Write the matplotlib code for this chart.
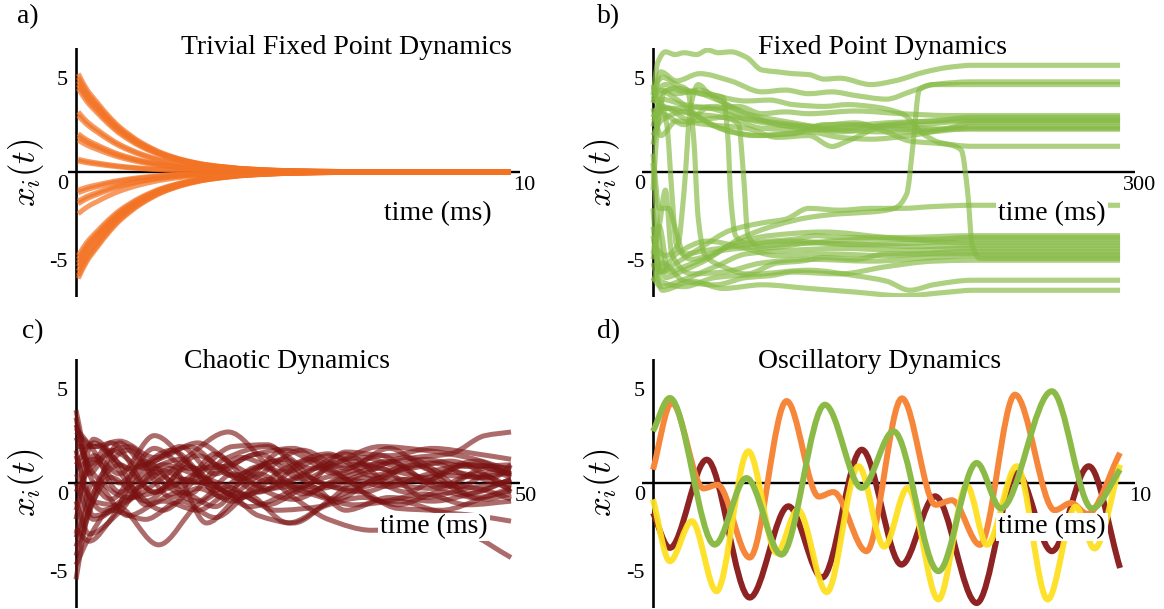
import numpy as np
import matplotlib
matplotlib.use("Agg")
import matplotlib.pyplot as plt
from matplotlib.path import Path
from matplotlib.patches import PathPatch

plt.rcParams["font.family"] = ["Liberation Serif", "DejaVu Serif"]
plt.rcParams["mathtext.fontset"] = "cm"

# ---------------------------------------------------------------- data
# a) trivial fixed point: starting values and the common decay profile
trivial_start = [5.4, 5.2, 5.0, 4.8, 4.6, 3.3, 3.1, 2.1, 1.95, 1.75, 0.7, 0.6,
                 -1.0, -1.15, -1.6, -1.75, -2.3, -4.6, -4.8, -5.0, -5.2, -5.45,
                 -5.7, -5.85]
trivial_times = [0.05, 0.25, 0.5, 0.75, 1.0, 1.5, 2.0, 2.5, 3.0, 4.0, 5.0, 6.0, 8.0, 10.0]
trivial_decay = [1.0, 0.84, 0.7, 0.57, 0.46, 0.3, 0.19, 0.12, 0.075, 0.03, 0.012,
                 0.005, 0.001, 0.0]

# b) fixed point dynamics: (time, value) waypoints of each unit
fixed_upper = [
    [(0, 4.2), (3, 6.0), (8, 6.6), (14, 6.45), (20, 6.55), (28, 6.45), (35, 6.7), (42, 6.55),
     (50, 6.6), (60, 6.3), (70, 5.6), (80, 5.5), (90, 5.4), (100, 5.35), (110, 5.1), (120, 5.15),
     (140, 4.8), (155, 5.0), (175, 5.5), (190, 5.75), (205, 5.86), (300, 5.86)],
    [(0, 3.8), (5, 5.5), (15, 5.0), (30, 5.4), (50, 5.0), (70, 4.4), (85, 4.5), (100, 4.3),
     (115, 4.4), (130, 4.2), (150, 4.0), (165, 4.4), (180, 4.8), (205, 4.95), (300, 4.95)],
    [(0, -4.5), (4, -3.0), (10, -5.5), (20, -5.2), (40, -4.5), (55, -3.7), (80, -2.9), (100, -2.5),
     (120, -2.3), (140, -2.2), (155, -2.0), (163, -1.2), (167, 1.5), (171, 4.5), (180, 4.8), (300, 4.8)],
    [(0, 2.5), (5, 4.0), (20, 3.7), (40, 3.5), (55, 3.6), (70, 3.2), (85, 3.3), (100, 3.2),
     (130, 3.35), (160, 3.2), (190, 3.1), (205, 3.1), (300, 3.1)],
    [(0, 3.0), (6, 3.6), (25, 2.8), (45, 3.0), (70, 2.4), (100, 2.3), (125, 2.5), (150, 2.7),
     (180, 2.8), (205, 3.0), (300, 3.0)],
    [(0, 1.5), (5, 3.2), (20, 2.6), (35, 3.5), (55, 3.0), (80, 2.7), (100, 2.5), (120, 2.2),
     (150, 2.6), (180, 2.8), (205, 2.85), (300, 2.85)],
    [(0, 4.0), (4, 4.5), (15, 4.0), (30, 3.0), (50, 2.2), (70, 2.0), (85, 2.1), (100, 2.2),
     (120, 1.9), (140, 1.8), (165, 2.0), (190, 2.4), (205, 2.7), (300, 2.7)],
    [(0, 2.0), (5, 2.8), (20, 3.3), (40, 2.5), (65, 2.0), (90, 2.1), (110, 2.6), (130, 2.6),
     (150, 2.4), (175, 2.3), (205, 2.5), (300, 2.5)],
    [(0, 3.5), (5, 2.0), (15, 2.8), (35, 2.6), (60, 2.4), (80, 1.9), (100, 2.0), (115, 1.4),
     (125, 1.7), (150, 2.5), (190, 2.35), (205, 2.35), (300, 2.35)],
    [(0, 4.3), (8, 4.8), (20, 4.4), (30, 4.5), (40, 4.2), (60, 3.9), (75, 3.95), (90, 3.7),
     (110, 3.6), (125, 3.7), (140, 3.6), (160, 3.2), (175, 2.0), (185, 1.6), (205, 1.41), (300, 1.41)],
    [(0, -1.0), (3, 2.5), (8, 4.5), (15, 4.3), (25, 4.4), (40, 4.0), (60, 3.2), (90, 2.7),
     (120, 2.3), (150, 2.2), (175, 2.2), (205, 2.4), (300, 2.4)],
    [(0, -4.0), (8, -4.6), (16, -4.0), (20, -1.0), (24, 3.5), (29, 4.8), (36, 4.3), (55, 3.4),
     (80, 2.6), (110, 2.3), (140, 2.5), (170, 2.6), (205, 2.8), (300, 2.8)],
]
fixed_lower = [
    [(0, 4.8), (5, 3.5), (20, 3.5), (40, 3.6), (60, 2.9), (80, 2.6), (100, 2.5), (130, 2.7),
     (150, 2.2), (165, 1.7), (190, 1.5), (198, 1.2), (202, -1.0), (205, -4.0), (210, -4.75), (300, -4.75)],
    [(0, -3.0), (5, -5.5), (15, -5.0), (30, -4.2), (50, -3.2), (70, -2.8), (85, -2.6), (100, -2.0),
     (120, -2.1), (140, -2.0), (160, -2.0), (180, -1.9), (205, -1.83), (300, -1.83)],
    [(0, 3.8), (5, 4.3), (15, 4.6), (30, 4.3), (45, 4.1), (48, 2.0), (50, -1.5), (53, -3.5),
     (60, -3.9), (75, -3.8), (90, -3.7), (105, -3.5), (120, -3.6), (160, -3.6), (205, -3.5), (300, -3.5)],
    [(0, 2.8), (8, 3.5), (25, 3.2), (45, 3.0), (55, 2.6), (58, 0.0), (61, -3.5), (70, -4.2),
     (100, -3.9), (140, -3.7), (180, -3.7), (205, -3.6), (300, -3.6)],
    [(0, 4.5), (6, 5.2), (15, 4.8), (22, 4.5), (26, 2.0), (29, -2.5), (33, -4.5), (45, -5.2),
     (60, -5.6), (80, -5.0), (95, -4.9), (110, -4.7), (130, -4.8), (150, -4.5), (205, -4.5), (300, -4.5)],
    [(0, 3.0), (5, 3.8), (9, 2.5), (12, -1.0), (15, -4.0), (25, -4.8), (45, -4.3), (70, -4.1),
     (100, -3.9), (140, -4.0), (170, -4.1), (205, -4.05), (300, -4.05)],
    [(0, -5.8), (5, -6.3), (20, -5.9), (40, -5.2), (60, -4.5), (90, -4.3), (120, -4.2), (160, -4.3),
     (205, -4.2), (300, -4.2)],
    [(0, -2.0), (4, -5.5), (15, -4.5), (35, -3.8), (55, -4.1), (80, -4.6), (110, -4.5), (150, -4.6),
     (205, -4.35), (300, -4.35)],
    [(0, -6.0), (6, -5.0), (20, -6.0), (40, -6.2), (60, -5.8), (75, -5.7), (90, -5.5), (120, -5.6),
     (150, -5.2), (180, -4.9), (205, -4.85), (300, -4.85)],
    [(0, -3.5), (5, -6.0), (20, -6.3), (40, -5.8), (70, -5.6), (100, -5.4), (130, -5.7), (150, -6.0),
     (165, -6.5), (180, -6.2), (205, -5.95), (300, -5.95)],
    [(0, -5.0), (6, -6.5), (25, -6.0), (45, -6.4), (70, -6.2), (100, -6.4), (130, -6.6), (160, -6.8),
     (190, -6.6), (205, -6.5), (300, -6.5)],
    [(0, 1.0), (4, -2.0), (10, -2.0), (14, -3.0), (20, -4.5), (35, -4.3), (60, -4.0), (90, -3.8),
     (130, -4.0), (170, -3.9), (205, -3.75), (300, -3.75)],
    [(0, -4.8), (4, -3.0), (8, -1.0), (12, -4.5), (25, -5.6), (45, -5.5), (70, -5.0), (100, -4.8),
     (140, -4.9), (180, -4.7), (205, -4.6), (300, -4.6)],
    [(0, 0.5), (3, -3.0), (8, -5.8), (20, -5.4), (35, -4.8), (50, -4.0), (75, -3.5), (110, -3.3),
     (150, -3.6), (205, -3.9), (300, -3.9)],
]

# c) chaotic dynamics: turning points of each unit
chaotic_paths = [
    [(0, 4.0), (1.5, 1.0), (4, 2.2), (9, -0.5), (14, 1.5), (19, 0.2), (24, 1.8), (30, 0.5), (36, 1.2), (42, -0.3), (47, 0.8), (50, 0.5)],
    [(0, -5.3), (1.2, -2.0), (3, 0.5), (6, 1.8), (11, -0.8), (16, 1.0), (21, -0.5), (27, 1.3), (33, -0.2), (39, 1.0), (45, -0.6), (50, 0.2)],
    [(0, 1.5), (2, -1.0), (5, -1.3), (9.5, -3.4), (14, -1.2), (17, -0.5), (21, -1.8), (25, -2.2), (29, -1.0), (33, 0.3), (38, -0.5), (43, 0.6), (50, -0.3)],
    [(0, -2.5), (1.5, -3.2), (4, -2.0), (7, 0.5), (11, 1.8), (15, 0.2), (19, -0.8), (24, 0.8), (29, 1.6), (34, 0.4), (40, 1.3), (45, 0.9), (50, 1.0)],
    [(0, 2.5), (2, 0.5), (6, -0.8), (10, 0.3), (13, 1.5), (17.5, 2.8), (22, 1.0), (26, -0.6), (31, 0.2), (36, -0.2), (41, 0.5), (46, -0.8), (50, -0.3)],
    [(0, -1.5), (2, 1.5), (5, 0.5), (9, 2.6), (13, 1.0), (17, -0.8), (21, 0.4), (26, 1.8), (31, 0.8), (36, 1.9), (41, 0.7), (46, 1.2), (50, 0.4)],
    [(0, 0.5), (3, -1.5), (7, -0.3), (11, 0.8), (15, -2.2), (19.5, -0.6), (24.4, -2.2), (29, -1.2), (33, -0.8), (37, -1.2), (42, -0.5), (47, -0.9), (50, -0.6)],
    [(0, 3.0), (2, 1.8), (5, -0.5), (9, 0.8), (14, 0.0), (19, 1.4), (24, 0.6), (29, 1.5), (34, 1.0), (39, 1.4), (43, 1.6), (47, 2.6), (50, 2.8)],
    [(0, -3.0), (2, -0.5), (5, 1.0), (9, -0.5), (13, 0.9), (17, -0.4), (21, 0.5), (25, -0.8), (29, -2.0), (34, -2.6), (40, -2.4), (45, -2.8), (50, -4.1)],
    [(0, 2.0), (2.5, 2.0), (6, 0.0), (10, -1.5), (14, -0.3), (18, -1.0), (22, 0.2), (27, -0.6), (32, -1.2), (37, -1.0), (42, -1.6), (46, -1.8), (50, -2.1)],
    [(0, -4.0), (2, -1.0), (5, 2.2), (8, 1.0), (12, 2.0), (16, 0.5), (20, 1.5), (25, 1.9), (30, 0.6), (35, 1.5), (40, 0.3), (45, 1.0), (50, 0.8)],
    [(0, 1.0), (2, 2.2), (5, 1.0), (8, -1.2), (12, -0.5), (16, -1.3), (20, 0.6), (24, 1.3), (28, 0.0), (33, -0.5), (38, 0.2), (44, -0.2), (48, 0.6), (50, 0.3)],
    [(0, -1.0), (1.5, -2.8), (5, -1.6), (9, 0.6), (13, -0.6), (17, 1.3), (22, 2.0), (27, 0.8), (32, 1.0), (37, 0.6), (42, 0.0), (47, -0.4), (50, -0.9)],
    [(0, 3.2), (2, 0.0), (4, -0.9), (8, 1.2), (12, -0.2), (16, 1.6), (20, 0.0), (25, -0.9), (30, 0.2), (35, 0.8), (40, -0.8), (45, -0.3), (50, 0.1)],
    [(0, -2.0), (2, 2.4), (6, 0.8), (10, 1.4), (14, 2.2), (18, 1.0), (23, 0.0), (28, 0.9), (33, 1.4), (38, 0.8), (43, 1.2), (48, 0.2), (50, -0.5)],
    [(0, 0.0), (2, -2.0), (6, -0.9), (10, -0.4), (14, 0.6), (18, 2.0), (22, 2.1), (26, 0.5), (31, -0.3), (36, 0.5), (41, 1.1), (46, 0.3), (50, 0.6)],
    [(0, -3.5), (1.5, -1.5), (4, 0.3), (8, -1.0), (12, 0.2), (16, -0.2), (20, -1.3), (25, -0.4), (30, 0.4), (35, -1.0), (40, -0.6), (45, -1.2), (50, -1.0)],
    [(0, 2.8), (2, 2.0), (5, 2.3), (9, 1.4), (13, 2.0), (18, 0.4), (23, 1.2), (28, -0.3), (33, 0.5), (38, 1.4), (43, 0.4), (48, 0.3), (50, 1.0)],
    [(0, -0.5), (2, 1.0), (6, 2.0), (10, 0.0), (14, -1.0), (18, 0.5), (22, -0.3), (26, 0.4), (31, 1.6), (36, 0.0), (41, -0.3), (46, 0.5), (50, -0.2)],
    [(0, 1.8), (2, -1.8), (6, -1.0), (10, 1.0), (14, 0.4), (18, -0.3), (22, -1.2), (27, -0.2), (31, -1.5), (36, -0.8), (41, -1.0), (46, -0.5), (50, 0.2)],
    [(0, -4.5), (1.5, -3.0), (4, -1.5), (8, -2.0), (12, -1.0), (16, -1.9), (20, -0.6), (25, -0.2), (30, -0.9), (35, 0.3), (40, 0.1), (45, 1.0), (50, 0.5)],
    [(0, 0.8), (2, 1.3), (5, 0.0), (9, 1.9), (13, 0.8), (17, 0.9), (21, 1.6), (26, 0.2), (30, 1.1), (35, 2.0), (40, 1.8), (45, 1.4), (50, 0.7)],
    [(0, -2.8), (2, 0.0), (6, -1.8), (10, -1.0), (14, -1.5), (18, -0.5), (23, -1.5), (28, -1.3), (32, -0.4), (37, -1.4), (42, -1.5), (47, -0.8), (50, -0.4)],
    [(0, 3.6), (1.5, 0.5), (4, 1.8), (8, 0.8), (12, 1.3), (16, -0.4), (21, 0.9), (26, -0.2), (31, 1.7), (36, 1.5), (41, 1.9), (46, 1.6), (50, 1.3)],
]

# d) oscillatory dynamics: turning points of four units
osc_maroon = [(0, -1.65), (0.36, -3.57), (1.15, 1.28), (2.07, -6.3), (2.9, -1.28), (3.62, -5.2),
              (4.47, 1.83), (5.32, -4.49), (6.04, -0.73), (6.93, -6.6), (7.79, 0.55), (8.54, -3.75),
              (9.33, 0.92), (10.0, -4.67)]
osc_orange = [(0, 0.73), (0.4, 4.4), (1.08, -0.3), (1.38, -0.1), (2.07, -4.1), (2.86, 4.5),
              (3.55, -0.75), (3.86, -0.5), (4.57, -3.75), (5.33, 4.65), (6.05, -1.2), (6.4, -0.95),
              (7.0, -3.4), (7.75, 4.85), (8.6, -1.5), (8.95, -1.1), (9.3, -1.7), (10.0, 1.65)]
osc_yellow = [(0, -0.9), (0.36, -4.3), (0.83, -2.1), (1.36, -5.95), (2.04, 1.74), (2.65, -3.85),
              (3.1, -1.47), (3.72, -6.0), (4.4, 0.92), (4.95, -3.5), (5.45, -0.27), (6.11, -6.4),
              (6.72, -0.15), (7.15, -3.4), (7.79, 0.92), (8.45, -6.4), (9.05, -1.3), (9.45, -3.6),
              (10.0, 1.0)]
osc_green = [(0, 2.84), (0.36, 4.67), (1.32, -3.39), (2.0, 0.27), (2.75, -3.94), (3.68, 4.3),
             (4.47, -0.27), (5.15, 2.84), (6.11, -4.85), (6.93, 1.1), (7.45, -1.4), (8.54, 5.04),
             (9.4, -1.4), (10.0, 0.73)]

ORANGE = "#F37324"
GREEN = "#86BA45"
DARKRED = "#7A1212"

# ---------------------------------------------------------------- helpers
W, H = 1164, 609
fig = plt.figure(figsize=(W / 100, H / 100), dpi=100)
fig.patch.set_facecolor("white")


def axes_px(x0, x1, y0, y1):
    return fig.add_axes([x0 / W, 1 - y1 / H, (x1 - x0) / W, (y1 - y0) / H])


def slopes(t, v):
    h = np.diff(t)
    d = np.diff(v) / h
    m = np.zeros(len(t))
    m[0], m[-1] = d[0], d[-1]
    for k in range(1, len(t) - 1):
        if d[k - 1] * d[k] <= 0:
            m[k] = 0.0
        else:
            w1 = 2 * h[k] + h[k - 1]
            w2 = h[k] + 2 * h[k - 1]
            m[k] = (w1 + w2) / (w1 / d[k - 1] + w2 / d[k])
    return m


def smooth_curve(ax, t, v, color, lw, alpha, z=2):
    t = np.asarray(t, float)
    v = np.asarray(v, float)
    m = slopes(t, v)
    verts = [(t[0], v[0])]
    codes = [Path.MOVETO]
    for i in range(len(t) - 1):
        h = t[i + 1] - t[i]
        verts += [(t[i] + h / 3, v[i] + m[i] * h / 3),
                  (t[i + 1] - h / 3, v[i + 1] - m[i + 1] * h / 3),
                  (t[i + 1], v[i + 1])]
        codes += [Path.CURVE4] * 3
    ax.add_patch(PathPatch(Path(verts, codes), fill=False, edgecolor=color, lw=lw,
                           alpha=alpha, capstyle="butt", joinstyle="round", zorder=z))


def draw_points(ax, pts, color, lw, alpha):
    t, v = zip(*pts)
    smooth_curve(ax, t, v, color, lw, alpha)


TICK_FS = 16
TEXT_FS = 20


def frame(ax, xlim, ylim, tend, end_label, end_dx):
    ax.set_xlim(*xlim)
    ax.set_ylim(*ylim)
    ax.axis("off")
    ax.axhline(0, color="black", lw=1.7, zorder=1)
    ax.axvline(0, color="black", lw=1.9, zorder=1)
    kw = dict(textcoords="offset pixels", fontsize=TICK_FS, va="center", annotation_clip=False)
    ax.annotate("5", xy=(0, 5), xytext=(-8, 0), ha="right", **kw)
    ax.annotate("-5", xy=(0, -5), xytext=(-8, 0), ha="right", **kw)
    ax.annotate("0", xy=(0, 0), xytext=(-8, -13), ha="right", **kw)
    ax.annotate(end_label, xy=(tend, 0), xytext=(end_dx, -14), ha="center", **kw)


def ftext(x, y, s, **kw):
    return fig.text(x / W, 1 - y / H, s, **kw)


YLIM = (-6.87, 6.81)

# ---------------------------------------------------------------- a) trivial fixed point
ax_a = axes_px(68, 520, 48, 297)
frame(ax_a, (-0.184, 10.207), YLIM, 10, "10", 13)
for x0 in trivial_start:
    smooth_curve(ax_a, trivial_times, [x0 * f for f in trivial_decay], ORANGE, 3.6, 0.72)

# ---------------------------------------------------------------- b) fixed points
ax_b = axes_px(642, 1135, 48, 297)
frame(ax_b, (-7.07, 309.6), YLIM, 300, "300", 20)
for pts in fixed_upper + fixed_lower:
    draw_points(ax_b, pts, GREEN, 3.7, 0.68)

# ---------------------------------------------------------------- c) chaos
ax_c = axes_px(68, 520, 359, 608)
frame(ax_c, (-0.92, 51.03), YLIM, 50, "50", 15)
for pts in chaotic_paths:
    draw_points(ax_c, pts, DARKRED, 3.6, 0.62)

# ---------------------------------------------------------------- d) oscillations
ax_d = axes_px(642, 1135, 359, 608)
frame(ax_d, (-0.236, 10.32), YLIM, 10, "10", 20)
draw_points(ax_d, osc_maroon, "#8E2324", 4.3, 1.0)
draw_points(ax_d, osc_orange, "#F6863A", 4.3, 1.0)
draw_points(ax_d, osc_yellow, "#FDE021", 4.3, 0.95)
draw_points(ax_d, osc_green, "#8BBB46", 4.3, 1.0)

# ---------------------------------------------------------------- labels
for (x, y), s in zip([(28, 17), (609, 17), (33, 332), (609, 332)], ["a)", "b)", "c)", "d)"]):
    ftext(x, y, s, fontsize=TEXT_FS, ha="center", va="center")

titles = [((346, 48), "Trivial Fixed Point Dynamics"), ((883, 48), "Fixed Point Dynamics"),
          ((287, 361), "Chaotic Dynamics"), ((880, 361), "Oscillatory Dynamics")]
for (x, y), s in titles:
    ftext(x, y, s, fontsize=TEXT_FS, ha="center", va="center")

for (x, y) in [(26, 173), (602, 173), (26, 483), (602, 483)]:
    ftext(x, y, r"$x_i(t)$", fontsize=25, rotation=90, ha="center", va="center")

for (x, y) in [(438, 214), (1052, 214), (434, 527), (1052, 527)]:
    ftext(x, y, "time (ms)", fontsize=TEXT_FS, ha="center", va="center", zorder=5,
          bbox=dict(facecolor="white", edgecolor="none", pad=1.5))

fig.savefig("out.png", dpi=100, facecolor="white")
